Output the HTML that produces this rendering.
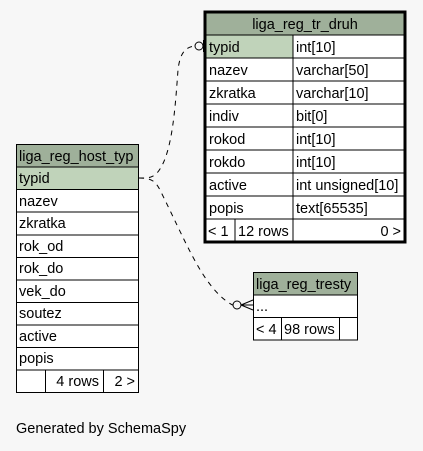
<!DOCTYPE html>
<html><head><style>
html,body{margin:0;padding:0;background:#f7f7f7;}
svg text{font-family:"Liberation Sans",Arial,sans-serif;font-size:14.5px;fill:#000;}
</style></head><body>
<svg width="423" height="446" viewBox="0 0 423 446" xmlns="http://www.w3.org/2000/svg">
<rect width="423" height="446" fill="#f7f7f7"/>
<g fill="none" stroke="#000" stroke-width="1" stroke-dasharray="5,5">
<path d="M139,178 C148,178 150,178 155,175 C172,160 175,110 178,70 C180,52 186,47 195,46"/>
<path d="M139,178 C150,178 155,180 160,190 C185,240 200,280 225,300 C230,304 234,306 236,306"/>
</g>
<g fill="none" stroke="#000" stroke-width="1">
<circle cx="199" cy="46" r="4" fill="#f7f7f7"/>
<line x1="204" y1="40" x2="204" y2="52" stroke-width="2"/>
<circle cx="237" cy="305" r="4" fill="#f7f7f7"/>
<path d="M241,305 L253,300 M241,305 L253,305 M241,305 L253,310"/>
</g>
<g stroke="#000" stroke-width="1">
<rect x="206" y="13" width="198" height="228" fill="#fff"/>
<rect x="206" y="13" width="198" height="22" fill="#9fb09a"/>
<rect x="206" y="35" width="87" height="23" fill="#c0d3ba"/>
<line x1="206" y1="58" x2="404" y2="58"/><line x1="206" y1="81" x2="404" y2="81"/>
<line x1="206" y1="104" x2="404" y2="104"/><line x1="206" y1="127" x2="404" y2="127"/>
<line x1="206" y1="150" x2="404" y2="150"/><line x1="206" y1="173" x2="404" y2="173"/>
<line x1="206" y1="196" x2="404" y2="196"/><line x1="206" y1="219" x2="404" y2="219"/>
<line x1="293" y1="35" x2="293" y2="241"/><line x1="235" y1="219" x2="235" y2="241"/>
<rect x="205" y="12" width="200" height="230" fill="none" stroke-width="3"/>
</g>
<text x="305" y="29" text-anchor="middle">liga_reg_tr_druh</text>
<g>
<text x="209" y="52">typid</text><text x="296" y="52">int[10]</text>
<text x="209" y="75">nazev</text><text x="296" y="75">varchar[50]</text>
<text x="209" y="98">zkratka</text><text x="296" y="98">varchar[10]</text>
<text x="209" y="121">indiv</text><text x="296" y="121">bit[0]</text>
<text x="209" y="144">rokod</text><text x="296" y="144">int[10]</text>
<text x="209" y="167">rokdo</text><text x="296" y="167">int[10]</text>
<text x="209" y="190">active</text><text x="296" y="190">int unsigned[10]</text>
<text x="209" y="213">popis</text><text x="296" y="213">text[65535]</text>
<text x="208" y="236">&lt; 1</text><text x="238" y="236">12 rows</text><text x="401" y="236" text-anchor="end">0 &gt;</text>
</g>
<g stroke="#000" stroke-width="1">
<rect x="16.5" y="144.5" width="122" height="248" fill="#fff"/>
<rect x="16.5" y="144.5" width="122" height="22.5" fill="#9fb09a"/>
<rect x="16.5" y="167" width="122" height="22.5" fill="#c0d3ba"/>
<line x1="16.5" y1="189.5" x2="138.5" y2="189.5"/><line x1="16.5" y1="212" x2="138.5" y2="212"/>
<line x1="16.5" y1="235" x2="138.5" y2="235"/><line x1="16.5" y1="257.5" x2="138.5" y2="257.5"/>
<line x1="16.5" y1="280" x2="138.5" y2="280"/><line x1="16.5" y1="302.5" x2="138.5" y2="302.5"/>
<line x1="16.5" y1="325" x2="138.5" y2="325"/><line x1="16.5" y1="347.5" x2="138.5" y2="347.5"/>
<line x1="16.5" y1="370" x2="138.5" y2="370"/>
<line x1="45.5" y1="370" x2="45.5" y2="392.5"/><line x1="103.5" y1="370" x2="103.5" y2="392.5"/>
</g>
<text x="19" y="161">liga_reg_host_typ</text>
<text x="19" y="183">typid</text>
<text x="19" y="206">nazev</text>
<text x="19" y="228">zkratka</text>
<text x="19" y="251">rok_od</text>
<text x="19" y="273">rok_do</text>
<text x="19" y="296">vek_do</text>
<text x="19" y="318">soutez</text>
<text x="19" y="341">active</text>
<text x="19" y="363">popis</text>
<text x="99" y="386" text-anchor="end">4 rows</text>
<text x="135" y="386" text-anchor="end">2 &gt;</text>
<g stroke="#000" stroke-width="1">
<rect x="253.5" y="272.5" width="104" height="67.5" fill="#fff"/>
<rect x="253.5" y="272.5" width="104" height="22.5" fill="#9fb09a"/>
<line x1="253.5" y1="317.5" x2="357.5" y2="317.5"/>
<line x1="281.5" y1="317.5" x2="281.5" y2="340"/><line x1="339.5" y1="317.5" x2="339.5" y2="340"/>
</g>
<text x="256" y="289">liga_reg_tresty</text>
<text x="256" y="311">...</text>
<text x="256" y="334">&lt; 4</text>
<text x="284" y="334">98 rows</text>
<text x="16" y="433">Generated by SchemaSpy</text>
</svg>
</body></html>
